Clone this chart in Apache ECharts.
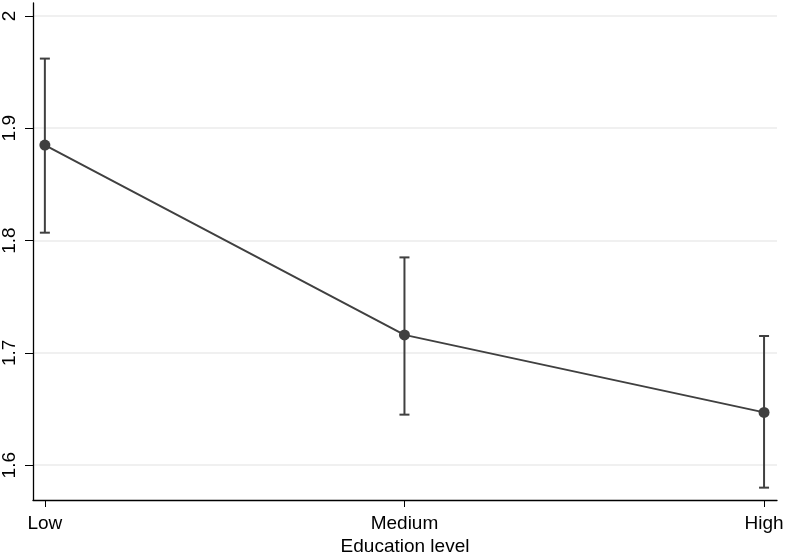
<!DOCTYPE html>
<html><head><meta charset="utf-8">
<script src="https://cdn.jsdelivr.net/npm/echarts@6/dist/echarts.min.js"></script>
<style>html,body{margin:0;padding:0;background:#fff}#c{width:787px;height:552px}</style>
</head><body><div id="c"></div>
<script>
const categories = ['Low', 'Medium', 'High'];
const means = [1.885, 1.716, 1.647];
const upper = [1.962, 1.785, 1.715];
const lower = [1.807, 1.645, 1.580];
const yTicks = [1.6, 1.7, 1.8, 1.9, 2];
const xName = 'Education level';

const chart = echarts.init(document.getElementById('c'));
const col = '#404040';
const font = 'Liberation Sans, Arial, sans-serif';
chart.setOption({
  animation: false,
  grid: {left: 33, right: 10, top: 3, bottom: 52, containLabel: false, outerBoundsMode: 'none'},
  xAxis: {
    type: 'value', min: -0.033, max: 2.036,
    name: xName, nameLocation: 'middle', nameGap: 37, nameMoveOverlap: false,
    nameTextStyle: {fontSize: 19, fontFamily: font, color: '#000'},
    axisLine: {show: true, onZero: false, lineStyle: {color: '#000', width: 1.3}},
    axisTick: {show: true, length: 7, lineStyle: {color: '#000'}, customValues: [0, 1, 2]},
    axisLabel: {customValues: [0, 1, 2], formatter: v => categories[Math.round(v)], fontSize: 19, fontFamily: font, color: '#000', margin: 14},
    splitLine: {show: false}
  },
  yAxis: {
    type: 'value', min: 1.569, max: 2.0115,
    axisLine: {show: true, onZero: false, lineStyle: {color: '#000', width: 1.3}},
    axisTick: {show: true, length: 8, lineStyle: {color: '#000'}, customValues: yTicks},
    axisLabel: {customValues: yTicks, rotate: 90, fontSize: 19, fontFamily: font, color: '#000', margin: 14,
      formatter: v => String(+v.toFixed(1))},
    splitLine: {show: true, lineStyle: {color: '#ebebeb', width: 1.5}}
  },
  series: [
    {
      type: 'custom',
      data: categories.map((c, i) => [i, lower[i], upper[i]]),
      renderItem: (params, api) => {
        const x = api.value(0);
        const lo = api.coord([x, api.value(1)]);
        const hi = api.coord([x, api.value(2)]);
        const hw = 5;
        const style = {stroke: col, lineWidth: 2, fill: null};
        return {type: 'group', children: [
          {type: 'line', shape: {x1: lo[0], y1: lo[1], x2: hi[0], y2: hi[1]}, style},
          {type: 'line', shape: {x1: lo[0]-hw, y1: lo[1], x2: lo[0]+hw, y2: lo[1]}, style},
          {type: 'line', shape: {x1: hi[0]-hw, y1: hi[1], x2: hi[0]+hw, y2: hi[1]}, style}
        ]};
      },
      z: 2
    },
    {
      type: 'line',
      data: categories.map((c, i) => [i, means[i]]),
      symbol: 'circle', symbolSize: 11,
      lineStyle: {color: col, width: 2},
      itemStyle: {color: col},
      z: 3
    }
  ]
});
</script></body></html>
